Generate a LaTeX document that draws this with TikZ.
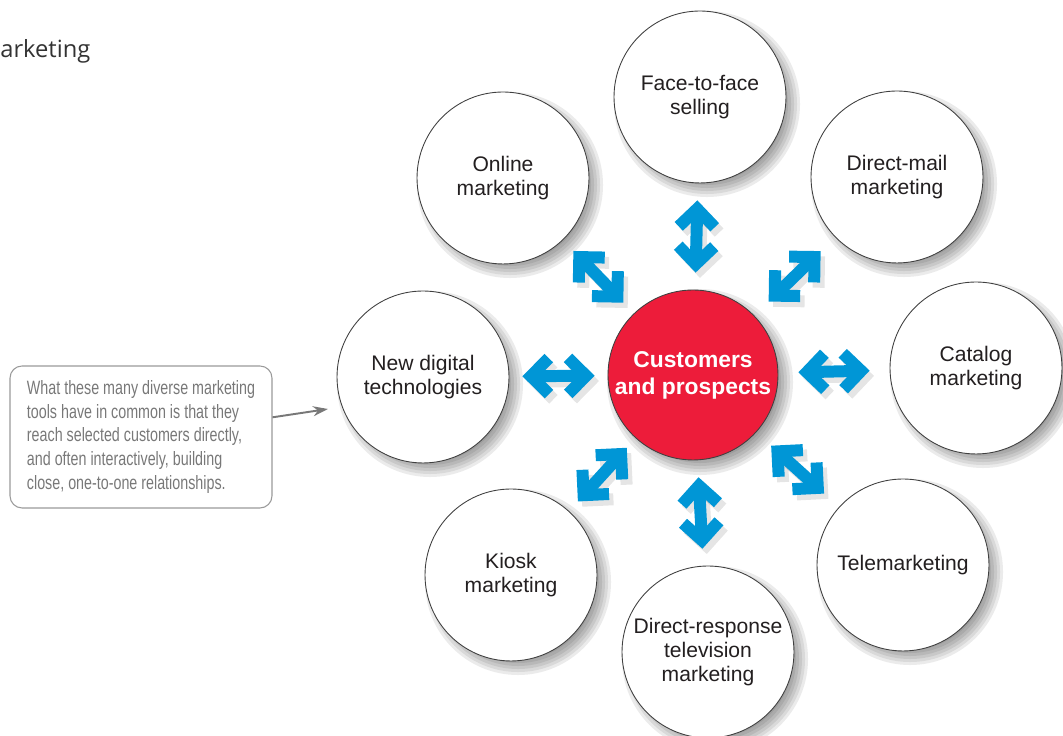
\documentclass[tikz,border=0pt]{standalone}
\usepackage{fontspec}
\setmainfont{Liberation Sans}
\newfontfamily\notefont[FakeStretch=0.74]{Liberation Sans}
\newfontfamily\headfont{Open Sans}
\usetikzlibrary{arrows.meta}
\definecolor{chanblue}{RGB}{0,150,214}
\definecolor{hubred}{RGB}{237,28,58}
\definecolor{notegray}{RGB}{120,120,120}
\definecolor{inkdark}{RGB}{35,31,32}
\pgfdeclarelayer{background}
\pgfsetlayers{background,main}

\begin{document}
\begin{tikzpicture}[x=0.02cm,y=0.02cm,
	channel/.style={circle,draw=black!75,line width=0.5pt,fill=white,minimum size=3.44cm,inner sep=0pt,
		align=center,text=inkdark,font=\fontsize{12}{13.6}\selectfont},
	hub/.style={channel,fill=hubred,text=white,minimum size=3.4cm,font=\fontsize{13}{15.3}\selectfont\bfseries},
	link/.style={line width=0.24cm,
		{Straight Barb[sharp,length=0.36cm,width=0.72cm]}-{Straight Barb[sharp,length=0.36cm,width=0.72cm]}},
	blur/.style={fill=black,opacity=0.08},
	note/.style={draw=notegray!75,line width=0.6pt,rounded corners=0.24cm,text=notegray,
		minimum height=2.84cm,minimum width=5.24cm,inner sep=0pt,align=left,
		font=\notefont\fontsize{11}{13.4}\selectfont},
	notearrow/.style={draw=notegray,line width=1.1pt,-{Stealth[length=0.3cm,width=0.2cm]}}]
	\useasboundingbox (0,0) rectangle (1063,736);
	\node[anchor=base west,font=\headfont\fontsize{13.5}{16}\selectfont,text=black!80,inner sep=0pt] (title) at (0,678) {arketing};
	% channels round the customers
	\node[hub] (cust) at (693,361) {Customers\\and prospects};
	\node[channel] (face) at (700,639) {Face-to-face\\selling};
	\node[channel] (online) at (503,558) {Online\\marketing};
	\node[channel] (dmail) at (897,559) {Direct-mail\\marketing};
	\node[channel] (catalog) at (976,368) {Catalog\\marketing};
	\node[channel] (newdig) at (423,359) {New digital\\technologies};
	\node[channel] (tele) at (903,171) {Telemarketing};
	\node[channel] (kiosk) at (511,161) {Kiosk\\marketing};
	\node[channel] (drtv) at (708,84) {Direct-response\\television\\marketing};
	% soft shadows
	\begin{pgfonlayer}{background}
		\foreach \n in {cust,face,online,dmail,catalog,newdig,tele,kiosk,drtv}
			\foreach \r in {78,81,...,93}
				\fill[blur] ([xshift=4pt,yshift=-4pt]\n.center) circle[radius=\r];
	\end{pgfonlayer}
	% two-way arrows
	\foreach \n/\s in {face/3.4,online/3.0,dmail/4.0,catalog/4.0,tele/4.0,drtv/3.4,kiosk/2.6,newdig/2.6}
		\draw[link,draw=black,opacity=0.1,transform canvas={shift={(2.5pt,-3pt)}},
			shorten <=\s mm,shorten >=\s mm] (cust) -- (\n);
	\foreach \n/\s in {face/3.4,online/3.0,dmail/4.0,catalog/4.0,tele/4.0,drtv/3.4,kiosk/2.6,newdig/2.6}
		\draw[link,draw=chanblue,shorten <=\s mm,shorten >=\s mm] (cust) -- (\n);
	% callout
	\node[note] (note) at (141,299) {What these many diverse marketing\\tools have in common is that they\\reach selected customers directly,\\and often interactively, building\\close, one-to-one relationships.};
	\coordinate (tip) at (328,327);
	\draw[notearrow] (note) -- (tip);
\end{tikzpicture}
\end{document}
